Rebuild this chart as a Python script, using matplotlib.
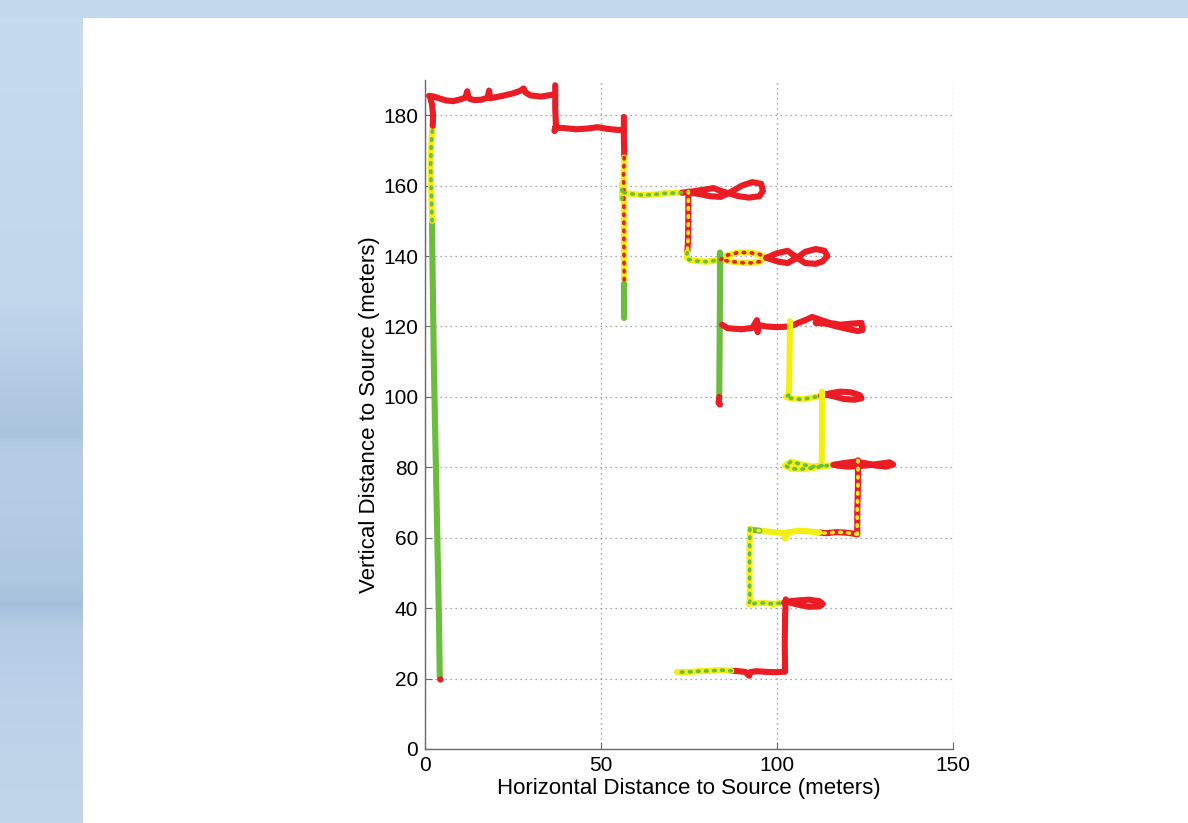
import matplotlib

matplotlib.use("Agg")
import matplotlib.pyplot as plt
import numpy as np
from matplotlib.colors import LinearSegmentedColormap
from matplotlib.patches import Rectangle

# colours of the signal classes along the track
RED = "#EC1C24"
YELLOW = "#F3EF12"
GREEN = "#6BBD3E"

# track legs (x, y in metres), with base colour and speckle colour
start_x = [4.2, 4.0, 3.7, 3.4, 3.1, 2.8, 2.5, 2.3, 2.1, 2.0]
start_y = [20, 35, 50, 65, 80, 95, 110, 125, 140, 150]
climb_x = [2.0, 1.8, 1.6, 1.8, 2.2]
climb_y = [150, 158, 166, 172, 177]
corner_x = [2.2, 2.3, 2.0, 1.5, 1.2]
corner_y = [177, 180, 183, 185, 185.5]
top_x = [1.2, 2.5, 4, 6, 8, 10, 11.5, 12, 12.3, 12.8, 14, 16, 17.8, 18.2, 18.5,
         19.5, 22, 25, 27, 28, 28.5, 30, 33, 35.5, 37]
top_y = [185.5, 185.3, 184.8, 184.2, 184, 184.5, 185, 186.8, 185.2, 184.6, 184.3,
         184.4, 185, 187, 184.8, 185, 185.5, 186.2, 186.9, 187.6, 186.5, 185.6,
         185.3, 185.7, 186]
step1_x = [37, 37, 37.2, 36.8, 37]
step1_y = [188.5, 182, 177, 175.5, 176.5]
row176_x = [37, 40, 43, 46, 49, 52, 55, 56.5]
row176_y = [176.5, 176.3, 176, 176.2, 176.6, 176.1, 175.8, 175.9]
drop57a_x = [56.5, 56.5, 56.6]
drop57a_y = [179.5, 174, 168]
drop57b_x = [56.6, 56.4, 56.5, 56.5, 56.6]
drop57b_y = [168, 163, 158, 145, 132]
drop57c_x = [56.6, 56.6]
drop57c_y = [132, 122.3]
knot57_x = [56.0, 56.0]
knot57_y = [156.3, 160.5]
row158_x = [56.5, 59, 62, 65, 68, 71, 73]
row158_y = [158, 157.6, 157.3, 157.5, 157.8, 157.9, 158]
loop158_x = [73, 75, 79, 82, 84, 86.5, 89, 92, 95, 96, 95.5, 93, 90, 86.5, 84, 81, 78, 75.5]
loop158_y = [158, 158.2, 158.8, 159.3, 158.5, 157.8, 157, 156.6, 157, 158.5, 160.5,
             161, 160, 158, 156.8, 157, 157.6, 158]
drop75_x = [74.8, 74.8, 74.7, 74.5]
drop75_y = [158.3, 150, 144, 141]
row139_x = [74.5, 74.3, 75, 77, 80, 83, 84]
row139_y = [141, 139.5, 139, 138.6, 138.4, 138.8, 139]
loop139a_x = [84, 86, 89, 92, 95, 97, 95, 92, 89, 86, 84]
loop139a_y = [139, 140.3, 141, 141, 140.5, 139.5, 138.4, 138, 138.2, 138.6, 139]
loop139b_x = [97, 100, 103, 105.7, 108, 111, 113, 114.3, 113.5, 111, 108, 105.7, 103, 100, 97]
loop139b_y = [139.5, 140.8, 141.5, 139.5, 138, 137.8, 138.5, 140, 141.5, 142, 141.2,
              139.5, 138, 138.5, 139.5]
drop84_x = [83.8, 83.8, 83.7, 83.6]
drop84_y = [141, 130, 115, 100]
tail84_x = [83.6, 83.4, 83.8]
tail84_y = [100, 98.3, 97.8]
row120_x = [84.4, 86, 90, 93, 94.3, 94.5, 94.7, 97, 100, 103.7, 106, 108, 110, 112,
            115, 118, 121, 124, 124.3, 123, 120, 117, 114, 111]
row120_y = [120.5, 119.5, 119.2, 119.6, 121.8, 118.4, 120.4, 120, 119.8, 120, 121,
            121.8, 122.7, 122, 121, 120.5, 120.8, 121, 119, 118.7, 119.3, 120, 120.8, 121]
drop104_x = [103.7, 103.6, 103.5, 103.3]
drop104_y = [121.5, 112, 104, 100.5]
row100_x = [103.3, 102.5, 104, 107, 110, 112.5]
row100_y = [100.5, 100, 99.6, 99.3, 99.8, 100.3]
loop100_x = [112.5, 115, 118, 121, 123.5, 124, 122, 119, 116, 113]
loop100_y = [100.3, 101, 101.5, 101.3, 100.5, 99.6, 99.2, 99.4, 100.2, 100.8]
drop113_x = [112.8, 112.8, 112.7]
drop113_y = [101.5, 90, 80.5]
loop80a_x = [112.8, 110, 107, 104, 102.3, 104, 107, 110, 113, 116]
loop80a_y = [80.5, 80.2, 80.8, 81.6, 80.5, 79.6, 79.5, 79.8, 80.3, 80.7]
loop80b_x = [116, 119, 122, 125, 128, 131, 133, 132, 129, 126, 123, 120, 117]
loop80b_y = [80.7, 81.2, 81.6, 81.2, 80.5, 80.2, 80.8, 81.4, 81, 80.6, 80.3, 80.2, 80.5]
drop123_x = [123, 123, 122.8, 122.8]
drop123_y = [82, 75, 67, 61]
row61a_x = [122.8, 120, 117, 114, 112]
row61a_y = [61, 61.4, 61.6, 61.3, 61.5]
row61b_x = [112, 109, 106, 103, 102.3, 102, 100, 97, 95]
row61b_y = [61.5, 61.8, 62, 61.5, 59.8, 61.3, 61.5, 61.8, 62]
row61c_x = [95, 93, 92.3]
row61c_y = [62, 62.2, 62.5]
drop92_x = [92.3, 92.2, 92.2, 92.3]
drop92_y = [62.5, 55, 48, 42]
row41_x = [92.3, 92, 93, 96, 99, 102]
row41_y = [42, 41.2, 41.3, 41.5, 41.2, 41.6]
loop41_x = [102, 104, 106, 109, 112, 113, 112, 109, 106, 104]
loop41_y = [41.6, 42, 42.2, 42.4, 42, 41.2, 40.5, 40.4, 41, 41.5]
drop102_x = [102.5, 102.3, 102.2, 102.3]
drop102_y = [42.5, 38, 30, 22]
row22a_x = [102.3, 100, 97, 94, 92.3, 92.1, 91, 88, 87]
row22a_y = [22, 21.8, 21.9, 22.1, 21.8, 20.8, 21.9, 22.2, 22.2]
row22b_x = [87, 84, 81, 78, 75, 72, 71.6]
row22b_y = [22.2, 22.4, 22.2, 22.1, 21.9, 21.8, 21.9]

LEGS = [
    (start_x, start_y, GREEN, None),
    (climb_x, climb_y, YELLOW, GREEN),
    (corner_x, corner_y, RED, None),
    (top_x, top_y, RED, None),
    (step1_x, step1_y, RED, None),
    (row176_x, row176_y, RED, None),
    (drop57a_x, drop57a_y, RED, None),
    (drop57b_x, drop57b_y, YELLOW, RED),
    (drop57c_x, drop57c_y, GREEN, None),
    (knot57_x, knot57_y, YELLOW, GREEN),
    (row158_x, row158_y, YELLOW, GREEN),
    (loop158_x, loop158_y, RED, None),
    (drop75_x, drop75_y, RED, YELLOW),
    (row139_x, row139_y, YELLOW, GREEN),
    (loop139a_x, loop139a_y, YELLOW, RED),
    (loop139b_x, loop139b_y, RED, None),
    (drop84_x, drop84_y, GREEN, None),
    (tail84_x, tail84_y, RED, None),
    (row120_x, row120_y, RED, None),
    (drop104_x, drop104_y, YELLOW, None),
    (row100_x, row100_y, YELLOW, GREEN),
    (loop100_x, loop100_y, RED, None),
    (drop113_x, drop113_y, YELLOW, None),
    (loop80a_x, loop80a_y, YELLOW, GREEN),
    (loop80b_x, loop80b_y, RED, None),
    (drop123_x, drop123_y, RED, YELLOW),
    (row61a_x, row61a_y, RED, YELLOW),
    (row61b_x, row61b_y, YELLOW, None),
    (row61c_x, row61c_y, GREEN, YELLOW),
    (drop92_x, drop92_y, YELLOW, GREEN),
    (row41_x, row41_y, YELLOW, GREEN),
    (loop41_x, loop41_y, RED, None),
    (drop102_x, drop102_y, RED, None),
    (row22a_x, row22a_y, RED, None),
    (row22b_x, row22b_y, YELLOW, GREEN),
]

x_ticks = [0, 50, 100, 150]
y_ticks = [0, 20, 40, 60, 80, 100, 120, 140, 160, 180]

# slide backdrop: left strip shading, top to bottom
strip_stops = [0.0, 0.35, 0.45, 0.52, 0.54, 0.60, 0.70, 0.73, 0.76, 0.85, 1.0]
strip_colors = ["#C7DBEE", "#C2D7EC", "#B3CBE3", "#ABC4DE", "#B6CDE4", "#B4CCE4",
                "#AFC8E1", "#A6C0DB", "#B5CCE4", "#BDD2E9", "#C2D6EA"]

plt.rcParams.update(
    {
        "font.family": ["Liberation Sans", "DejaVu Sans"],
        "font.size": 15,
    }
)

fig = plt.figure(figsize=(11.88, 8.23), dpi=100, facecolor="#C4D8EC")
fig.patches.append(
    Rectangle((83 / 1188, 0), 1 - 83 / 1188, 1 - 18 / 823, transform=fig.transFigure,
              facecolor="white", edgecolor="none", zorder=-10)
)
bg = fig.add_axes([0, 0, 83 / 1188, 1 - 18 / 823], zorder=-5)
strip_cmap = LinearSegmentedColormap.from_list("strip", list(zip(strip_stops, strip_colors)))
bg.imshow(np.linspace(0, 1, 256)[:, None], cmap=strip_cmap, aspect="auto",
          interpolation="bilinear")
bg.set_axis_off()

ax = fig.add_axes([425 / 1188, 1 - 749 / 823, 528 / 1188, 669 / 823])
ax.set_facecolor("none")

LW = 4.4
for xs, ys, base, speck in LEGS:
    ax.plot(xs, ys, color=base, lw=LW, solid_capstyle="round", solid_joinstyle="round",
            zorder=3)
    if speck is not None:
        ax.plot(xs, ys, color=speck, lw=LW * 0.6, linestyle=(0, (0.4, 1.8)),
                dash_capstyle="round", zorder=4)
ax.plot([start_x[0]], [start_y[0]], "o", color=RED, ms=3.5, zorder=5)

ax.set_xlim(0, 150)
ax.set_ylim(0, 190)
ax.set_xticks(x_ticks)
ax.set_yticks(y_ticks)
ax.grid(True, linestyle=(0, (1, 3)), color="#8C8C8C", linewidth=0.9)
for side in ("top", "right"):
    ax.spines[side].set_visible(False)
for side in ("left", "bottom"):
    ax.spines[side].set_color("#6A6A6A")
    ax.spines[side].set_linewidth(1.0)
ax.tick_params(direction="in", length=5, width=0.8, color="#6A6A6A", labelcolor="black",
               labelsize=15, pad=5)
ax.set_xlabel("Horizontal Distance to Source (meters)", fontsize=16, labelpad=2)
ax.set_ylabel("Vertical Distance to Source (meters)", fontsize=16, labelpad=2)

fig.savefig("out.png", dpi=100, facecolor=fig.get_facecolor())
